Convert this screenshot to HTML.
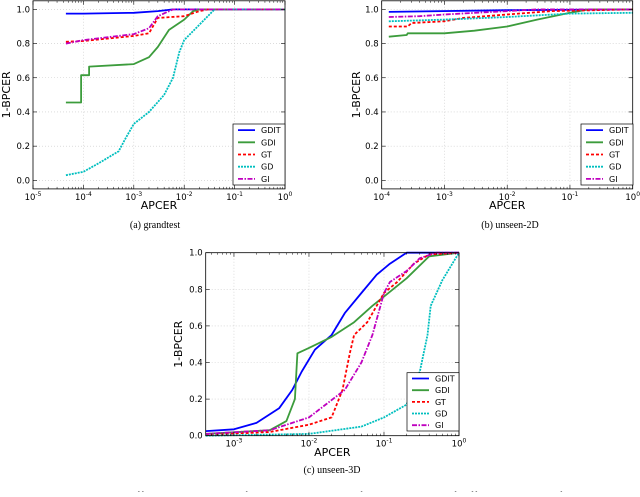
<!DOCTYPE html>
<html><head><meta charset="utf-8"><style>
body{margin:0;background:#fff;width:640px;height:492px;overflow:hidden}
svg text{font-family:"DejaVu Sans","Liberation Sans",sans-serif}
.cap{font-family:"Liberation Serif",serif;font-size:10px}
</style></head><body>
<svg id="fig" width="640" height="492" viewBox="0 0 640 492"></svg>
<script>
// ---- data ----
const seriesNames=["GDIT","GDI","GT","GD","GI"];
// chart a: grandtest
const aGDITx=[4.5e-5,1e-4,1e-3,3e-3,6e-3,1];          const aGDITy=[0.975,0.975,0.98,0.99,1.0,1.0];
const aGDIx=[4.5e-5,9e-5,9e-5,1.3e-4,1.3e-4,1e-3,2e-3,3e-3,5e-3,1e-2,1.5e-2,2e-2,1]; const aGDIy=[0.455,0.455,0.615,0.615,0.665,0.68,0.72,0.78,0.88,0.94,0.99,1.0,1.0];
const aGTx=[4.5e-5,1e-4,1e-3,2e-3,3e-3,1e-2,2e-2,3e-2,1]; const aGTy=[0.81,0.815,0.845,0.86,0.95,0.96,0.99,1.0,1.0];
const aGDx=[4.5e-5,1e-4,2e-4,5e-4,7e-4,1e-3,2e-3,4e-3,6e-3,8e-3,1e-2,2e-2,4e-2,1]; const aGDy=[0.03,0.05,0.1,0.17,0.25,0.33,0.4,0.5,0.6,0.75,0.82,0.91,1.0,1.0];
const aGIx=[4.5e-5,1e-4,1e-3,2e-3,3e-3,6e-3,1]; const aGIy=[0.80,0.82,0.855,0.89,0.96,1.0,1.0];
// chart b: unseen-2D
const bGDITx=[1.3e-4,1e-2,1]; const bGDITy=[0.985,0.995,1.0];
const bGDIx=[1.3e-4,2.5e-4,2.6e-4,1e-3,3e-3,1e-2,3e-2,1e-1,2e-1,1]; const bGDIy=[0.84,0.85,0.86,0.86,0.875,0.9,0.94,0.98,1.0,1.0];
const bGTx=[1.3e-4,2.6e-4,3e-4,1e-3,2e-3,1e-2,5e-2,1]; const bGTy=[0.9,0.9,0.92,0.93,0.95,0.97,0.99,1.0];
const bGDx=[1.3e-4,1e-3,1e-2,1e-1,1]; const bGDy=[0.93,0.94,0.955,0.975,0.98];
const bGIx=[1.3e-4,4e-4,1e-3,1e-2,3e-2,1]; const bGIy=[0.955,0.96,0.97,0.99,1.0,1.0];
// chart c: unseen-3D
const cGDITx=[4.2e-4,1e-3,2e-3,4e-3,6e-3,8e-3,1.2e-2,2e-2,3e-2,5e-2,8e-2,1.2e-1,2e-1,1]; const cGDITy=[0.025,0.035,0.07,0.15,0.25,0.35,0.47,0.55,0.67,0.78,0.88,0.94,1.0,1.0];
const cGDIx=[4.2e-4,3e-3,5e-3,6.5e-3,7e-3,1e-2,2e-2,4e-2,7e-2,1e-1,2e-1,4e-1,1]; const cGDIy=[0.01,0.03,0.08,0.2,0.45,0.48,0.54,0.62,0.71,0.76,0.86,0.98,1.0];
const cGTx=[4.2e-4,3e-3,1e-2,2e-2,2.8e-2,3.5e-2,4e-2,6e-2,1e-1,1.5e-1,2.5e-1,4e-1,1]; const cGTy=[0.005,0.02,0.06,0.1,0.25,0.45,0.55,0.62,0.78,0.84,0.94,0.99,1.0];
const cGDx=[4.2e-4,1e-2,5e-2,1e-1,2e-1,3e-1,3.8e-1,4.2e-1,6e-1,1]; const cGDy=[0.0,0.01,0.05,0.1,0.17,0.35,0.55,0.71,0.85,1.0];
const cGIx=[4.2e-4,3e-3,1e-2,3e-2,5e-2,7e-2,1e-1,1.2e-1,2e-1,3e-1,5e-1,1]; const cGIy=[0.01,0.03,0.1,0.25,0.4,0.55,0.78,0.84,0.9,0.97,1.0,1.0];
const yTicks=[0,0.2,0.4,0.6,0.8,1.0];
const yTickLabels=["0.0","0.2","0.4","0.6","0.8","1.0"];

const NS="http://www.w3.org/2000/svg";
const svg=document.getElementById("fig");
function mk(tag,attrs,parent){const e=document.createElementNS(NS,tag);for(const k in attrs)e.setAttribute(k,attrs[k]);(parent||svg).appendChild(e);return e;}
const styles=[{c:"#0000ff",d:""},{c:"#3c9c3c",d:""},{c:"#ff0000",d:"3,2"},{c:"#00bfbf",d:"2,1"},{c:"#bf00bf",d:"5,1.5,1.5,1.5"}];

function chart(id,L,R,T,B,xmin,xmax,ymin,ymax,decs,data,leg,xlabY,ylabX){
  const g=mk("g",{});
  
  
  const lx0=Math.log10(xmin),lx1=Math.log10(xmax);
  const X=v=>L+(Math.log10(v)-lx0)/(lx1-lx0)*(R-L);
  const Y=v=>B-(v-ymin)/(ymax-ymin)*(B-T);
  decs.forEach(k=>{const x=X(Math.pow(10,k));if(x>L+0.5&&x<R-0.5){const l=mk("line",{x1:x,x2:x,y1:T,y2:B,stroke:"#c8c8c8","stroke-width":0.6,"stroke-dasharray":"1,2"},g);}});
  yTicks.forEach(v=>{const y=Y(v);if(y>T+0.5&&y<B-0.5){const l=mk("line",{x1:L,x2:R,y1:y,y2:y,stroke:"#c8c8c8","stroke-width":0.6,"stroke-dasharray":"1,2"},g);}});
  data.forEach((s,i)=>{
    const pts=s[0].map((v,j)=>X(Math.max(v,xmin)).toFixed(1)+","+Y(s[1][j]).toFixed(1)).join(" ");
    const p=mk("polyline",{points:pts,fill:"none",stroke:styles[i].c,"stroke-width":1.8,"stroke-dasharray":styles[i].d,"stroke-linejoin":"round"},g);
    
    
  });
  const f=mk("rect",{x:L,y:T,width:R-L,height:B-T,fill:"none",stroke:"#000","stroke-width":0.8},g);
  
  decs.forEach(k=>{
    const x=X(Math.pow(10,k));
    mk("line",{x1:x,x2:x,y1:B,y2:B-4,stroke:"#000","stroke-width":0.6},g);
    mk("line",{x1:x,x2:x,y1:T,y2:T+4,stroke:"#000","stroke-width":0.6},g);
    for(let m=2;m<10;m++){const v=m*Math.pow(10,k);if(v<=xmax&&v>=xmin){const xm=X(v);mk("line",{x1:xm,x2:xm,y1:B,y2:B-2,stroke:"#000","stroke-width":0.5},g);mk("line",{x1:xm,x2:xm,y1:T,y2:T+2,stroke:"#000","stroke-width":0.5},g);}}
    const t=mk("text",{x:x,y:B+11,"font-size":8.5,"text-anchor":"middle"},g);
    
    t.appendChild(document.createTextNode("10"));
    const sp=mk("tspan",{dy:-4,"font-size":6},t);sp.textContent=String(k);
  });
  for(let k=decs[0]-1;k<decs[0];k++){for(let m=2;m<10;m++){const v=m*Math.pow(10,k);if(v>=xmin){const xm=X(v);mk("line",{x1:xm,x2:xm,y1:B,y2:B-2,stroke:"#000","stroke-width":0.5},g);mk("line",{x1:xm,x2:xm,y1:T,y2:T+2,stroke:"#000","stroke-width":0.5},g);}}}
  yTicks.forEach((v,i)=>{
    const y=Y(v);
    mk("line",{x1:L,x2:L+4,y1:y,y2:y,stroke:"#000","stroke-width":0.6},g);
    mk("line",{x1:R,x2:R-4,y1:y,y2:y,stroke:"#000","stroke-width":0.6},g);
    const t=mk("text",{x:L-3,y:y+3,"font-size":8.5,"text-anchor":"end"},g);
    
    t.textContent=yTickLabels[i];
  });
  const xl=mk("text",{x:(L+R)/2,y:xlabY,"font-size":11,"text-anchor":"middle"},g);
  xl.textContent="APCER";
  const cy=(T+B)/2;
  const yl=mk("text",{x:ylabX,y:cy,"font-size":11,"text-anchor":"middle",transform:`rotate(-90 ${ylabX} ${cy})`},g);
  yl.textContent="1-BPCER";
  const lg=mk("g",{},g);
  
  mk("rect",{x:leg[0],y:leg[1],width:leg[2],height:leg[3],fill:"#fff",stroke:"#000","stroke-width":0.7},lg);
  const step=leg[3]/5;
  seriesNames.forEach((n,i)=>{
    const yy=leg[1]+step*(i+0.5);
    const e=mk("g",{},lg);
    
    mk("line",{x1:leg[0]+5,x2:leg[0]+22,y1:yy,y2:yy,stroke:styles[i].c,"stroke-width":1.8,"stroke-dasharray":styles[i].d},e);
    const t=mk("text",{x:leg[0]+28,y:yy+3,"font-size":8},e);t.textContent=n;
  });
}
chart("chart-grandtest",33,285,0.8,188.9,1e-5,1,-0.05,1.05,[-5,-4,-3,-2,-1,0],
  [[aGDITx,aGDITy],[aGDIx,aGDIy],[aGTx,aGTy],[aGDx,aGDy],[aGIx,aGIy]],[233,124,52,61],209,10);
chart("chart-unseen-2d",381.7,632.7,0.8,188.9,1e-4,1,-0.05,1.05,[-4,-3,-2,-1,0],
  [[bGDITx,bGDITy],[bGDIx,bGDIy],[bGTx,bGTy],[bGDx,bGDy],[bGIx,bGIy]],[581,124,52,61],209,360);
chart("chart-unseen-3d",205.7,459,252.7,435.7,4.2e-4,1,0,1,[-3,-2,-1,0],
  [[cGDITx,cGDITy],[cGDIx,cGDIy],[cGTx,cGTy],[cGDx,cGDy],[cGIx,cGIy]],[407,372.7,52,58.3],456,182);
function cap(x,y,s,n){const t=mk("text",{x:x,y:y,"text-anchor":"middle",class:"cap"});t.textContent=s;}
cap(155,228,"(a)  grandtest","caption-a");
cap(510,228,"(b) unseen-2D","caption-b");
cap(332,473,"(c) unseen-3D","caption-c");
const bt=mk("text",{x:0,y:499,class:"cap","font-size":10.5,textLength:640});

bt.textContent="Multi-channel model with different combinations of channels: DET curves for the evaluation of different protocols of WMCA dataset.";
</script>
</body></html>
